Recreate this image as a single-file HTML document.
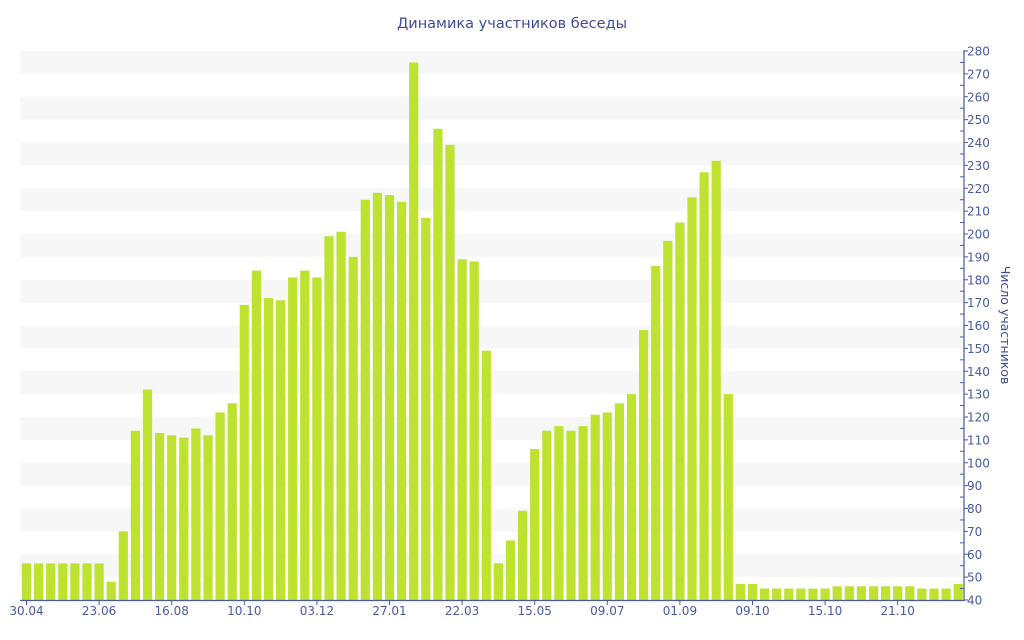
<!DOCTYPE html>
<html><head><meta charset="utf-8"><style>
html,body{margin:0;padding:0;background:#fff;}
svg{display:block;font-family:"DejaVu Sans","Liberation Sans",sans-serif;}
</style></head><body>
<svg id="c" width="1024" height="640" viewBox="0 0 1024 640" xmlns="http://www.w3.org/2000/svg">
<text x="512" y="28" text-anchor="middle" font-size="14.5" fill="#3d4d99">Динамика участников беседы</text>
<text transform="translate(1001,325) rotate(90)" text-anchor="middle" font-size="12.5" fill="#3d4d99">Число участников</text>
</svg>
<script>
var s=document.getElementById('c'),ns='http://www.w3.org/2000/svg';
function el(t,a,txt){var e=document.createElementNS(ns,t);for(var k in a)e.setAttribute(k,a[k]);if(txt!=null)e.textContent=txt;s.appendChild(e);return e;}
function Y(v){return 600-(v-40)*549/240;}
for(var v=50;v<280;v+=20){el('rect',{x:20,y:Y(v+10),width:944,height:Y(v)-Y(v+10),fill:'#f7f7f7'});}
var d=[56,56,56,56,56,56,56,48,70,114,132,113,112,111,115,112,122,126,169,184,172,171,181,184,181,199,201,190,215,218,217,214,275,207,246,239,189,188,149,56,66,79,106,114,116,114,116,121,122,126,130,158,186,197,205,216,227,232,130,47,47,45,45,45,45,45,45,46,46,46,46,46,46,46,45,45,45,47];
for(var i=0;i<d.length;i++){var cx=26.5+i*12.1;el('rect',{x:cx-4.6,y:Y(d[i]),width:9.2,height:600-Y(d[i]),fill:'#bde22f'});}
el('line',{x1:20,y1:600.5,x2:964,y2:600.5,stroke:'#4a5aa0','stroke-width':1.2});
el('line',{x1:964,y1:50,x2:964,y2:601,stroke:'#4a5aa0','stroke-width':1.2});
for(var v=40;v<=280;v+=10){var y=Y(v);el('line',{x1:964,y1:y,x2:968,y2:y,stroke:'#4a5aa0'});el('text',{x:967,y:y+4.5,'font-size':12,fill:'#4a5aa0'},String(v));
if(v<280){var y2=Y(v+5);el('line',{x1:960,y1:y2,x2:964,y2:y2,stroke:'#4a5aa0'});}}
var L=[[0,'30.04'],[6,'23.06'],[12,'16.08'],[18,'10.10'],[24,'03.12'],[30,'27.01'],[36,'22.03'],[42,'15.05'],[48,'09.07'],[54,'01.09'],[60,'09.10'],[66,'15.10'],[72,'21.10']];
L.forEach(function(p){var x=26.5+p[0]*12.1;el('line',{x1:x,y1:600,x2:x,y2:605,stroke:'#4a5aa0'});el('text',{x:x,y:615,'text-anchor':'middle','font-size':12,fill:'#4a5aa0'},p[1]);});
</script>
</body></html>
